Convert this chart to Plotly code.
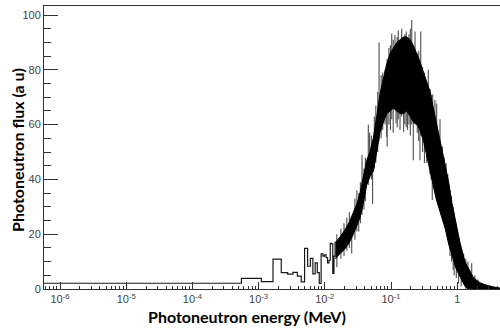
import plotly.graph_objects as go

# ---------------- data ----------------
# Low-energy part: individual histogram bins (uniform bin width in MeV)
BIN_WIDTH = 0.00055
low_bin_values = [2.1, 3.9, 2.7, 10.9, 6.0, 5.4, 6.1, 4.7, 2.6, 14.8,
                  8.3, 11.2, 5.5, 9.5, 6.0, 2.0, 12.8, 12.0, 12.5, 11.5,
                  9.5, 10.5, 16.7, 16.5, 5.7, 12.0, 17.0]

# Dense part: the bins are narrower than a pixel, so the histogram reads as a
# band between a lower and an upper envelope
band_energy = [0.0145, 0.017, 0.020, 0.0235, 0.027, 0.031, 0.034, 0.038, 0.043,
               0.048, 0.054, 0.060, 0.068, 0.077, 0.086, 0.097, 0.108, 0.122,
               0.137, 0.154, 0.172, 0.195, 0.217, 0.245, 0.274, 0.31, 0.35,
               0.39, 0.42, 0.48, 0.57, 0.66, 0.75, 0.83, 0.93, 1.0, 1.1, 1.18,
               1.31, 1.41, 1.56, 1.73, 1.95, 2.21, 2.6, 3.1, 3.6, 4.4, 5.0]
band_upper = [17, 19, 21.5, 24.5, 28, 31.5, 35, 41, 47,
              50, 55, 62, 71, 77, 82, 86, 88, 90,
              91, 92, 92, 91, 89, 86, 83, 79, 75,
              72, 68, 61, 52, 45, 38.5, 31.5, 25, 22, 17, 14,
              10, 8.5, 6.5, 4.5, 3.2, 2.3, 1.6, 1.0, 0.7, 0.4, 0.3]
band_lower = [11, 13, 14.5, 17, 20, 23.5, 26, 31, 38,
              41, 43, 49, 57, 61, 64, 65, 66, 65,
              64, 64, 65, 63, 61, 60, 58, 54, 48,
              43, 40, 33, 27, 22, 16, 12, 8.5, 6.5, 4.5, 3,
              1, 0.3, 0, 0, 0, 0, 0, 0, 0, 0, 0]

# Isolated spikes sticking out of the band (energy, low, high)
spike_energy = [0.0152, 0.0175, 0.0195, 0.0215, 0.0235, 0.0255, 0.0285, 0.0305,
                0.0325, 0.0345, 0.0365, 0.039, 0.041, 0.0454, 0.0475, 0.0505,
                0.0527, 0.056, 0.059, 0.063, 0.066, 0.071, 0.075, 0.0811,
                0.086, 0.0875, 0.093, 0.098, 0.1026, 0.108, 0.1148, 0.1191,
                0.124, 0.1288, 0.1368, 0.1451, 0.1552, 0.162, 0.17, 0.178,
                0.187, 0.196, 0.2056, 0.2173, 0.2306, 0.2497, 0.262, 0.274,
                0.2811, 0.30, 0.32, 0.3463, 0.3659, 0.39, 0.405, 0.42, 0.4264,
                0.46, 0.4898, 0.52, 0.5495, 0.60, 0.64, 0.68, 0.72, 0.78,
                0.82, 0.87, 0.9, 0.97, 1.05, 1.15, 1.25, 1.35, 1.45, 1.656,
                1.85, 2.05]
spike_low = [8, 11, 12, 14, 15, 13, 18, 21,
             21, 24, 27, 29, 32, 38, 41, 40,
             31, 44, 46, 50, 54, 55, 58, 60,
             55.6, 52, 60, 58, 62, 57, 68, 60.5,
             59, 62, 58, 63, 57.4, 60, 59, 58,
             60, 56, 60, 47, 60, 57, 54, 47,
             56, 50, 46, 46, 50, 42, 40, 32.5, 40,
             45, 40, 33, 35, 28, 24, 22, 18, 12,
             10, 7, 5, 4, 2, 1, 2, 0, 0, 0,
             0, 0]
spike_high = [20, 22, 24, 26, 28, 25, 33, 36,
              35, 39, 49, 44, 48, 60, 57, 56,
              53, 63, 67, 72, 90, 78, 79, 80,
              82, 84, 88, 89, 93.3, 91, 92.7, 88,
              92, 94.4, 90, 95, 90, 93, 94, 92,
              93, 95, 98.2, 88, 94, 86, 87, 80,
              94, 81, 79, 74, 80, 73, 71, 60, 71,
              69, 67.7, 57, 62, 52, 48, 46, 42, 36,
              34, 30, 28, 23, 19, 15, 13, 11, 10, 9.4,
              5, 3.5]

x_tick_values = [1e-6, 1e-5, 1e-4, 1e-3, 1e-2, 1e-1, 1]
x_tick_labels = ['10<sup>-6</sup>', '10<sup>-5</sup>', '10<sup>-4</sup>',
                 '10<sup>-3</sup>', '10<sup>-2</sup>', '10<sup>-1</sup>', '1']

# ---------------- figure ----------------
fig = go.Figure()

# spikes (drawn first so the solid band covers their inner parts)
sx, sy = [], []
for e, lo, hi in zip(spike_energy, spike_low, spike_high):
    sx += [e, e, None]
    sy += [lo, hi, None]
fig.add_trace(go.Scatter(x=sx, y=sy, mode='lines',
                         line=dict(color='#4d4d4d', width=1.1), hoverinfo='skip'))

# dense band
fig.add_trace(go.Scatter(
    x=band_energy, y=band_lower, mode='lines',
    line=dict(color='black', width=1), hoverinfo='skip'))
fig.add_trace(go.Scatter(
    x=band_energy, y=band_upper, mode='lines', fill='tonexty',
    fillcolor='black', line=dict(color='black', width=1), hoverinfo='skip'))

# low-energy histogram steps
edges = [k * BIN_WIDTH for k in range(len(low_bin_values) + 1)]
edges[0] = 1e-7  # bin starting at 0 MeV: start it off the left of the log axis
fig.add_trace(go.Scatter(
    x=edges, y=low_bin_values + [low_bin_values[-1]], mode='lines',
    line=dict(shape='hv', color='#1a1a1a', width=1.2), hoverinfo='skip'))

minor_vals = [m * 10.0 ** p for p in range(-7, 1) for m in range(2, 10)]

axis_font = dict(family='Liberation Sans, Arial, sans-serif', size=11, color='#444')

fig.update_layout(
    width=500, height=329,
    margin=dict(l=44, r=0, t=6, b=40),
    paper_bgcolor='white', plot_bgcolor='white',
    showlegend=False,
    xaxis=dict(
        type='log', range=[-6.2417, 0.6465],
        tickmode='array', tickvals=x_tick_values, ticktext=x_tick_labels,
        ticks='inside', ticklen=7, tickwidth=1, tickcolor='#333',
        showline=True, linecolor='#333', linewidth=1, mirror=True,
        showgrid=False, zeroline=False, tickfont=axis_font,
        minor=dict(tickmode='array', tickvals=minor_vals, ticks='inside',
                   ticklen=3.5, tickcolor='#333', showgrid=False),
    ),
    yaxis=dict(
        range=[0, 103.3], tick0=0, dtick=20,
        ticks='inside', ticklen=14, tickwidth=1, tickcolor='#333',
        showline=True, linecolor='#333', linewidth=1, mirror=False,
        showgrid=False, zeroline=False, tickfont=axis_font,
        minor=dict(dtick=5, ticks='inside', ticklen=7, tickcolor='#333',
                   showgrid=False),
    ),
    annotations=[
        dict(text='<b>Photoneutron energy (MeV)</b>', xref='paper', yref='paper',
             x=(247 - 44) / 456, y=(289 - 316) / 283, xanchor='center',
             yanchor='middle', showarrow=False,
             font=dict(family='Lato, Open Sans, sans-serif', size=16, color='black')),
        dict(text='<b>Photoneutron flux (a u)</b>', xref='paper', yref='paper',
             x=(17 - 44) / 456, y=(289 - 150) / 283, xanchor='center',
             yanchor='middle', textangle=-90, showarrow=False,
             font=dict(family='Lato, Open Sans, sans-serif', size=16, color='black')),
    ],
)

fig.write_html('out.html',
               config={'displayModeBar': False},
               post_script="document.body.style.margin='0';"
                           "document.body.style.overflow='hidden';")
